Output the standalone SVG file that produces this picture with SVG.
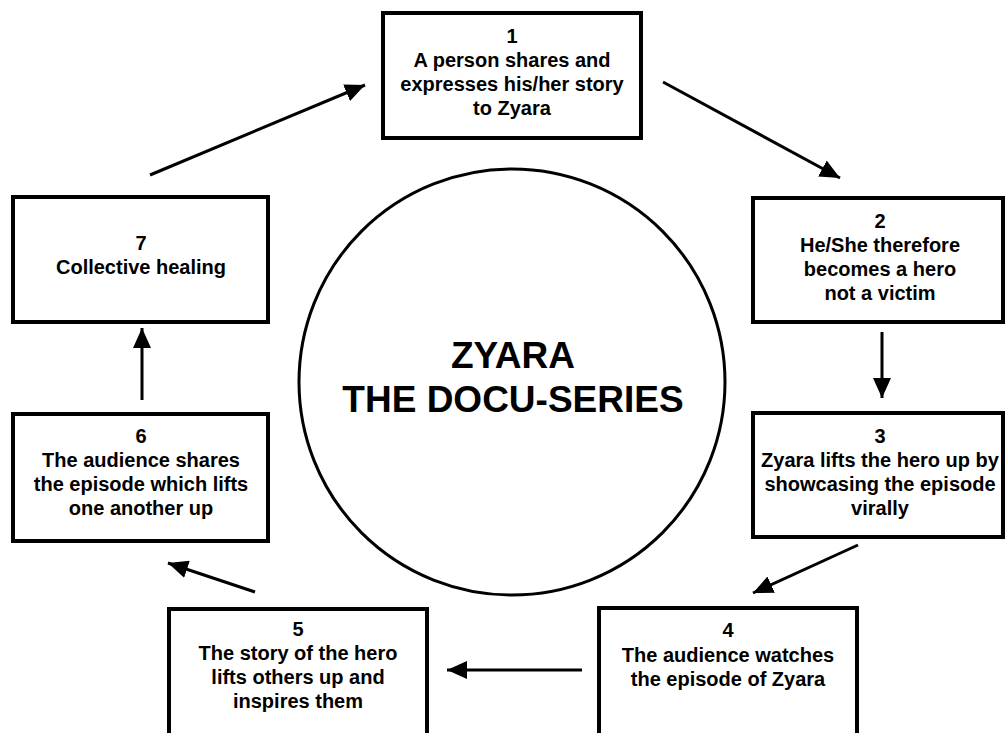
<svg xmlns="http://www.w3.org/2000/svg" width="1006" height="733" viewBox="0 0 1006 733">
<style>
.box{fill:#fff;stroke:#000;stroke-width:4}
.t{font-family:"Liberation Sans",Arial,sans-serif;font-weight:bold;font-size:20px;fill:#000;text-anchor:middle}
.big{font-family:"Liberation Sans",Arial,sans-serif;font-weight:bold;font-size:37px;fill:#000;text-anchor:middle}
.c{fill:none;stroke:#000;stroke-width:3;marker-end:url(#ah)}
</style>
<defs>
<marker id="ah" markerUnits="userSpaceOnUse" markerWidth="22" markerHeight="18" refX="20" refY="9" orient="auto">
<path d="M0,0 L20,9 L0,18 Z" fill="#000"/>
</marker>
</defs>
<rect width="1006" height="733" fill="#fff"/>
<g id="center">
<circle cx="512" cy="382" r="213" fill="#fff" stroke="#000" stroke-width="3"/>
<text class="big" x="513" y="368">ZYARA</text>
<text class="big" x="513" y="412">THE DOCU-SERIES</text>
</g>
<g id="connectors">
<line class="c" x1="150" y1="175" x2="365" y2="85"/>
<line class="c" x1="663" y1="82" x2="840" y2="178"/>
<line class="c" x1="882" y1="332" x2="882" y2="398"/>
<line class="c" x1="858" y1="545" x2="753" y2="593"/>
<line class="c" x1="582" y1="670" x2="447" y2="670"/>
<line class="c" x1="255" y1="592" x2="168" y2="563"/>
<line class="c" x1="142" y1="400" x2="142" y2="328"/>
</g>
<g id="node1">
<rect class="box" x="383" y="13" width="258" height="125"/>
<text class="t" x="512" y="43">1</text>
<text class="t" x="512" y="67">A person shares and</text>
<text class="t" x="512" y="91">expresses his/her story</text>
<text class="t" x="512" y="115">to Zyara</text>
</g>
<g id="node2">
<rect class="box" x="753" y="198" width="250" height="124"/>
<text class="t" x="880" y="228">2</text>
<text class="t" x="880" y="252">He/She therefore</text>
<text class="t" x="880" y="276">becomes a hero</text>
<text class="t" x="880" y="300">not a victim</text>
</g>
<g id="node3">
<rect class="box" x="753" y="413" width="250" height="124"/>
<text class="t" x="880" y="443">3</text>
<text class="t" x="880" y="467">Zyara lifts the hero up by</text>
<text class="t" x="880" y="491">showcasing the episode</text>
<text class="t" x="880" y="515">virally</text>
</g>
<g id="node4">
<rect class="box" x="599" y="608" width="258" height="140"/>
<text class="t" x="728" y="637">4</text>
<text class="t" x="728" y="662">The audience watches</text>
<text class="t" x="728" y="686">the episode of Zyara</text>
</g>
<g id="node5">
<rect class="box" x="169" y="609" width="258" height="140"/>
<text class="t" x="298" y="636">5</text>
<text class="t" x="298" y="660">The story of the hero</text>
<text class="t" x="298" y="684">lifts others up and</text>
<text class="t" x="298" y="708">inspires them</text>
</g>
<g id="node6">
<rect class="box" x="13" y="414" width="255" height="127"/>
<text class="t" x="141" y="443">6</text>
<text class="t" x="141" y="467">The audience shares</text>
<text class="t" x="141" y="491">the episode which lifts</text>
<text class="t" x="141" y="515">one another up</text>
</g>
<g id="node7">
<rect class="box" x="13" y="197" width="255" height="125"/>
<text class="t" x="141" y="250">7</text>
<text class="t" x="141" y="274">Collective healing</text>
</g>
</svg>
